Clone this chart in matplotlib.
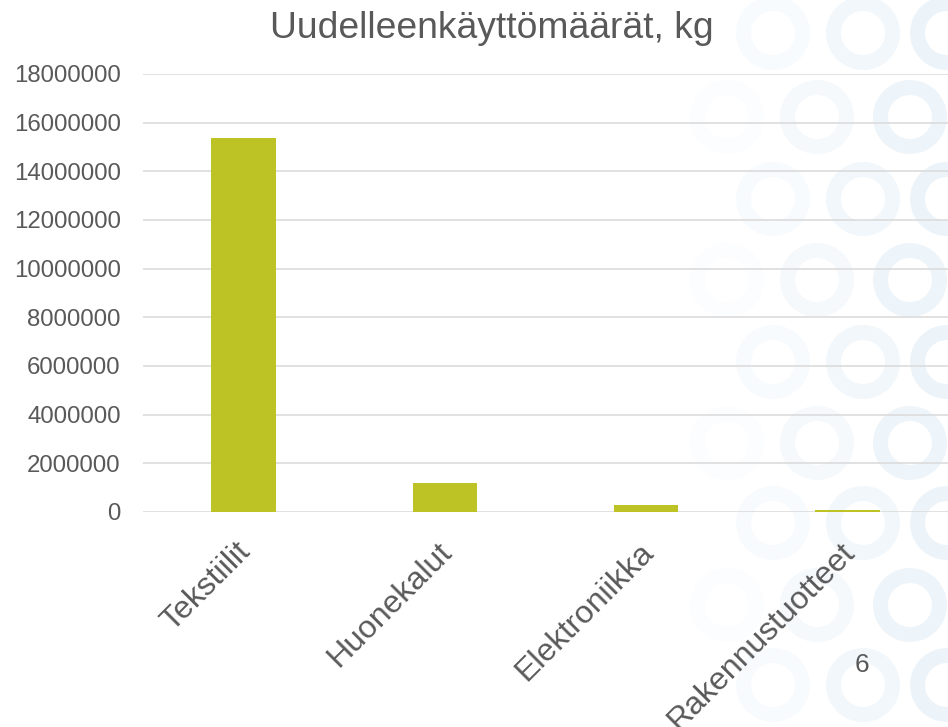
import matplotlib
matplotlib.use("Agg")
import matplotlib.pyplot as plt
import matplotlib.transforms as mtransforms
from matplotlib.patches import Annulus

categories = ["Tekstiilit", "Huonekalut", "Elektroniikka", "Rakennustuotteet"]
values = [15350000, 1190000, 290000, 80000]
yticks = [0, 2000000, 4000000, 6000000, 8000000, 10000000, 12000000,
          14000000, 16000000, 18000000]
title = "Uudelleenkäyttömäärät, kg"
page_number = "6"

# decorative background rings (pixel positions, colour per column)
ring_rows = [33, 117, 199, 280, 362, 443, 523, 605, 685]
ring_cols_odd = [(773, "#f8fbfd"), (863, "#f1f7fb"), (947, "#ecf4fa")]
ring_cols_even = [(727, "#fcfdfe"), (817, "#f5f9fc"), (910, "#eef5fa")]

plt.rcParams['font.family'] = ['Liberation Sans', 'DejaVu Sans']

W, H = 948, 727
fig = plt.figure(figsize=(W / 100, H / 100), dpi=100)

# background decoration
bg = fig.add_axes([0, 0, 1, 1], zorder=0)
bg.set_xlim(0, W)
bg.set_ylim(H, 0)
bg.axis("off")
for i, yy in enumerate(ring_rows):
    cols = ring_cols_odd if i % 2 == 0 else ring_cols_even
    for xx, c in cols:
        bg.add_patch(Annulus((xx, yy), 37, 15, color=c, lw=0))

left = 143 / W
bottom = 1 - 512 / H
top = 1 - 74 / H
ax = fig.add_axes([left, bottom, 1 - left, top - bottom], zorder=1)
ax.set_facecolor("none")

x = list(range(len(categories)))
ax.bar(x, values, width=0.32, color="#bdc225", zorder=3)
ax.set_xlim(-0.5, len(categories) - 0.5)
ax.set_ylim(0, 18000000)
ax.set_yticks(yticks)
ax.set_yticklabels([str(v) for v in yticks])
ax.yaxis.grid(True, color="#d9d9d9", linewidth=1.1, zorder=0)
ax.set_axisbelow(True)
for s in ax.spines.values():
    s.set_visible(False)
ax.tick_params(axis="y", length=0, pad=16, labelsize=17.3, labelcolor="#595959")
ax.tick_params(axis="x", length=0, pad=18, labelsize=23, labelcolor="#595959")
ax.set_xticks(x)
ax.set_xticklabels(categories, rotation=45, ha="right", va="top",
                   rotation_mode="anchor")
offset = mtransforms.ScaledTranslation(-8 / 100, 0, fig.dpi_scale_trans)
for lbl in ax.get_xticklabels():
    lbl.set_transform(lbl.get_transform() + offset)

fig.text(492 / W, 1 - 28 / H, title, ha="center", va="center",
         fontsize=26.8, color="#595959")
fig.text(862 / W, 1 - 665 / H, page_number, ha="center", va="center",
         fontsize=19, color="#595959")

fig.savefig("out.png", dpi=100)
